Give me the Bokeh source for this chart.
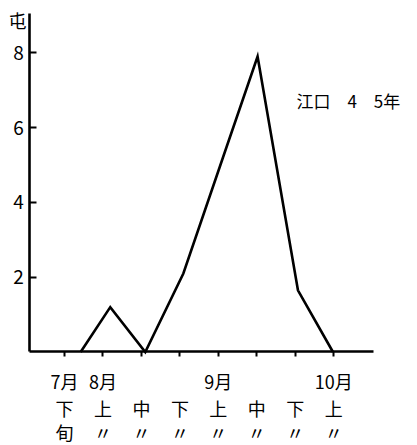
from bokeh.plotting import figure
from bokeh.models import FixedTicker, Range1d, Label, LinearAxis
from bokeh.embed import file_html
from bokeh.resources import INLINE

# periods (category positions 0..7) and tick labels (three rows)
periods = ["7月下旬", "8月上旬", "8月中旬", "8月下旬", "9月上旬", "9月中旬", "9月下旬", "10月上旬"]
month_row = ["7月", "8月", " ", " ", "9月", " ", " ", "10月"]
part_row = ["下", "上", "中", "下", "上", "中", "下", "上"]
suffix_row = ["旬", "〃", "〃", "〃", "〃", "〃", "〃", "〃"]
# observed line: positions along the period axis and amount (ton)
obs_pos = [0.42, 1.19, 2.1, 3.09, 4.12, 5.02, 6.07, 6.98]
obs_ton = [0.0, 1.2, 0.0, 2.1, 5.2, 7.9, 1.65, 0.0]
y_ticks = [2, 4, 6, 8]
title_text = "江口\u30004\u30005年"
unit_text = "屯"

FONT = "Noto Sans CJK JP"
FS = "18px"

X0, X1 = -0.9, 8.03   # extent of the drawn x axis
Y0, Y1 = 0.0, 9.05    # extent of the drawn y axis

p = figure(frame_width=417, frame_height=445, output_backend="svg",
           toolbar_location=None, x_range=Range1d(-1.664, 9.178), y_range=Range1d(-2.5, 9.398),
           min_border=0)
p.outline_line_color = None
p.grid.visible = False
p.background_fill_color = "white"
p.border_fill_color = "white"

p.line(obs_pos, obs_ton, line_width=2.6, color="black", line_join="miter")

ya = p.yaxis[0]
ya.fixed_location = X0
ya.bounds = (Y0, Y1)
ya.ticker = FixedTicker(ticks=y_ticks)
ya.major_tick_in = 7
ya.major_tick_out = 0
ya.minor_tick_line_color = None
ya.axis_line_width = 2.6
ya.major_tick_line_width = 2
ya.major_label_text_font = FONT
ya.major_label_text_font_size = "19px"
ya.major_label_text_color = "black"
ya.major_label_standoff = 6

ticks = list(range(len(periods)))

def style_x(ax, labels, standoff, line=True):
    ax.fixed_location = Y0
    ax.bounds = (X0, X1)
    ax.ticker = FixedTicker(ticks=ticks)
    ax.major_label_overrides = {i: t for i, t in enumerate(labels)}
    ax.minor_tick_line_color = None
    ax.major_tick_in = 0
    ax.major_label_text_font = FONT
    ax.major_label_text_font_size = FS
    ax.major_label_text_color = "black"
    ax.major_label_standoff = standoff
    if line:
        ax.major_tick_out = 5
        ax.axis_line_width = 2.6
        ax.major_tick_line_width = 2
    else:
        ax.major_tick_out = 0
        ax.axis_line_color = None
        ax.major_tick_line_color = None

style_x(p.xaxis[0], month_row, 11, line=True)
ax2 = LinearAxis()
style_x(ax2, part_row, 43, line=False)
p.add_layout(ax2, "below")
ax3 = LinearAxis()
style_x(ax3, suffix_row, 67, line=False)
p.add_layout(ax3, "below")

p.add_layout(Label(x=X0, y=Y1, text=unit_text, text_font=FONT, text_font_size=FS,
                   text_align="right", text_baseline="top", x_offset=-3.5, y_offset=7,
                   text_color="black"))
p.add_layout(Label(x=6.03, y=6.72, text=title_text, text_font=FONT, text_font_size="17px",
                   text_align="left", text_baseline="middle", text_color="black"))

open("out.html", "w").write(file_html(p, INLINE))
